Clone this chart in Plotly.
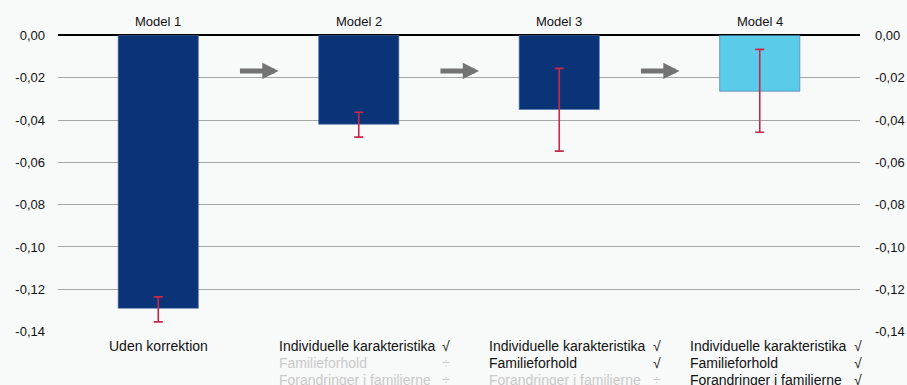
import plotly.graph_objects as go

models = ["Model 1", "Model 2", "Model 3", "Model 4"]
values = [-0.129, -0.042, -0.035, -0.0264]
err_low = [-0.1354, -0.0481, -0.0547, -0.0458]
err_high = [-0.1236, -0.0363, -0.0156, -0.0066]
bar_colors = ["#0b3478", "#0b3478", "#0b3478", "#5bcbea"]

tick_vals = [0, -0.02, -0.04, -0.06, -0.08, -0.10, -0.12, -0.14]
tick_text = ["0,00", "-0,02", "-0,04", "-0,06", "-0,08", "-0,10", "-0,12", "-0,14"]

row_labels = ["Individuelle karakteristika", "Familieforhold", "Forandringer i familierne"]
# √ = included, ÷ = not included
included = [
    None,
    [True, False, False],
    [True, True, False],
    [True, True, True],
]

err_plus = [h - v for h, v in zip(err_high, values)]
err_minus = [v - l for v, l in zip(values, err_low)]

fig = go.Figure()
fig.add_trace(go.Bar(
    x=models, y=values, width=0.4,
    marker=dict(color=bar_colors, line=dict(color="#4a6fa8", width=0.6)),
    error_y=dict(type="data", symmetric=False, array=err_plus, arrayminus=err_minus,
                 color="#c8284a", thickness=1.6, width=4.5),
    showlegend=False, hoverinfo="skip",
))
# invisible trace for right axis
fig.add_trace(go.Scatter(x=models, y=values, yaxis="y2", mode="markers",
                         marker=dict(opacity=0), showlegend=False, hoverinfo="skip"))

fam = "Liberation Sans, Arial"
font = dict(family=fam, size=13, color="#111")
font_lab = dict(family=fam, size=14, color="#111")

# model titles
for i, m in enumerate(models):
    fig.add_annotation(x=i, y=1, xref="x", yref="paper", text=m, showarrow=False,
                       yanchor="bottom", yshift=4, font=font)

# arrows between models
for i in range(3):
    fig.add_annotation(x=i + 0.6, y=-0.0168, ax=i + 0.4, ay=-0.0168,
                       xref="x", yref="y", axref="x", ayref="y",
                       text="", showarrow=True, arrowhead=2, arrowsize=0.65,
                       arrowwidth=5, arrowcolor="#737373")

# bottom labels
fig.add_annotation(x=0, y=0, xref="x", yref="paper", text="Uden korrektion",
                   showarrow=False, yanchor="middle", yshift=-14, font=font_lab)
for i in range(1, 4):
    for r, lab in enumerate(row_labels):
        inc = included[i][r]
        col = "#111" if inc else "#c9c9c9"
        fig.add_annotation(x=i, y=0, xref="x", yref="paper", text=lab, showarrow=False,
                           xanchor="left", yanchor="middle", xshift=-82 if i == 1 else -72,
                           yshift=-14 - 16.8 * r, font=dict(font_lab, color=col))
        fig.add_annotation(x=i, y=0, xref="x", yref="paper", text="√" if inc else "÷",
                           showarrow=False, xanchor="center", yanchor="middle",
                           xshift=87 if i == 1 else 98,
                           yshift=-14 - 16.8 * r, font=dict(font_lab, color=col))

yax = dict(range=[-0.1402, 0.0002], tickvals=tick_vals, ticktext=tick_text,
           showgrid=True, gridcolor="#a6a6a6", gridwidth=1,
           zeroline=True, zerolinecolor="#000", zerolinewidth=1.5,
           ticks="", tickfont=font, showline=False)

fig.update_layout(
    width=907, height=385,
    margin=dict(l=58, r=47, t=35, b=53, autoexpand=False),
    paper_bgcolor="#f8f9f9", plot_bgcolor="#f8f9f9",
    xaxis=dict(range=[-0.5, 3.5], showticklabels=False, showgrid=False, zeroline=False,
               showline=False, ticks=""),
    yaxis=dict(yax, ticklabelstandoff=12),
    yaxis2=dict(yax, overlaying="y", side="right", showgrid=False, ticklabelstandoff=14),
    bargap=0.6,
)

fig.write_html("out.html", config={"displayModeBar": False},
               post_script="document.body.style.margin='0';document.body.style.overflow='hidden';")
